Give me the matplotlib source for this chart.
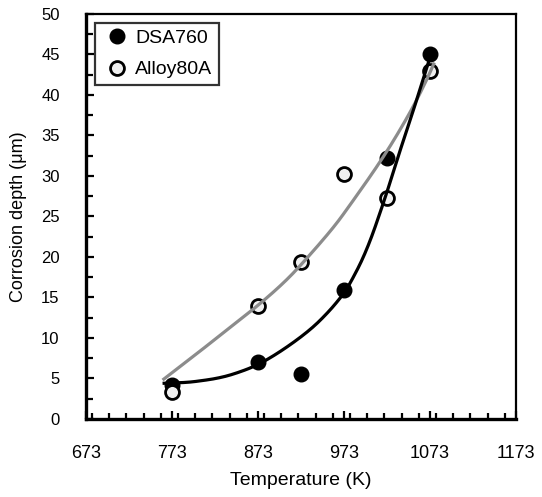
import numpy as np
import matplotlib
matplotlib.use("Agg")
import matplotlib.pyplot as plt
from matplotlib.ticker import MultipleLocator

plt.rcParams['font.family'] = ['Liberation Sans', 'DejaVu Sans']

temps = [773, 873, 923, 973, 1023, 1073]
dsa760 = [4.2, 7.0, 5.6, 15.9, 32.2, 45.1]
alloy80a = [3.3, 13.9, 19.4, 30.3, 27.3, 42.9]
series_names = ["DSA760", "Alloy80A"]
xticks = [673, 773, 873, 973, 1073, 1173]

# trend curves
dsa_curve_t = [762, 790, 806, 825, 844, 872, 902, 934, 955, 970, 978, 999, 1021, 1038, 1054, 1067, 1072]
dsa_curve_y = [4.4, 4.5, 4.7, 5.0, 5.5, 6.6, 8.5, 11.0, 13.2, 15.1, 16.3, 20.6, 27.3, 33.1, 38.2, 42.6, 44.3]
al_curve_t = [762, 784, 806, 844, 873, 902, 923, 960, 980, 1019, 1050, 1069, 1078]
al_curve_y = [4.8, 6.6, 8.4, 11.6, 14.0, 16.7, 19.0, 23.5, 26.4, 32.3, 37.8, 41.8, 44.0]


def chaikin(xs, ys, n_iter=4):
    """Corner-cutting smoothing of a drawn polyline (keeps the end points)."""
    p = np.column_stack([xs, ys]).astype(float)
    for _ in range(n_iter):
        q = 0.75 * p[:-1] + 0.25 * p[1:]
        r = 0.25 * p[:-1] + 0.75 * p[1:]
        mid = np.empty((2 * len(q), 2))
        mid[0::2] = q
        mid[1::2] = r
        p = np.vstack([p[:1], mid, p[-1:]])
    return p[:, 0], p[:, 1]


fig = plt.figure(figsize=(5.42, 4.97), dpi=100)
ax = fig.add_axes([0.1587, 0.157, 0.7933, 0.815])

ax.plot(temps, dsa760, 'o', color='black', ms=10.5, label=series_names[0], zorder=2)
ax.plot(temps, alloy80a, 'o', mfc='#f0f0f0', mec='black', mew=2.0, ms=10,
        label=series_names[1], zorder=2)
gx, gy = chaikin(al_curve_t, al_curve_y)
bx, by = chaikin(dsa_curve_t, dsa_curve_y)
ax.plot(gx, gy, color='#8c8c8c', lw=2.3, zorder=3, solid_capstyle='butt')
ax.plot(bx, by, color='black', lw=2.3, zorder=3, solid_capstyle='butt')

ax.set_xlim(673, 1173)
ax.set_ylim(0, 50)
ax.set_xticks(xticks)
ax.xaxis.set_minor_locator(MultipleLocator(20))
ax.yaxis.set_major_locator(MultipleLocator(5))
ax.yaxis.set_minor_locator(MultipleLocator(2.5))
ax.tick_params(which='major', direction='in', length=6, width=1.6)
ax.tick_params(which='minor', direction='in', length=4, width=1.6)
ax.tick_params(axis='y', which='minor', length=5)
ax.tick_params(axis='x', which='major', labelsize=13, pad=19)
ax.tick_params(axis='y', which='major', labelsize=12, pad=19)
ax.tick_params(top=False, right=False, which='both')

for s in ['left', 'bottom']:
    ax.spines[s].set_linewidth(2.4)
for s in ['top', 'right']:
    ax.spines[s].set_linewidth(1.6)

ax.set_xlabel('Temperature (K)', fontsize=14, labelpad=7)
ax.set_ylabel('Corrosion depth (μm)', fontsize=13, labelpad=10)

leg = ax.legend(loc='upper left', bbox_to_anchor=(0.021, 0.978), fontsize=14,
                frameon=True, fancybox=False, edgecolor='black', handletextpad=0.1,
                handlelength=1.6, borderpad=0.35, labelspacing=0.7, borderaxespad=0.0)
leg.get_frame().set_linewidth(1.6)

fig.savefig('out.png', dpi=100)
